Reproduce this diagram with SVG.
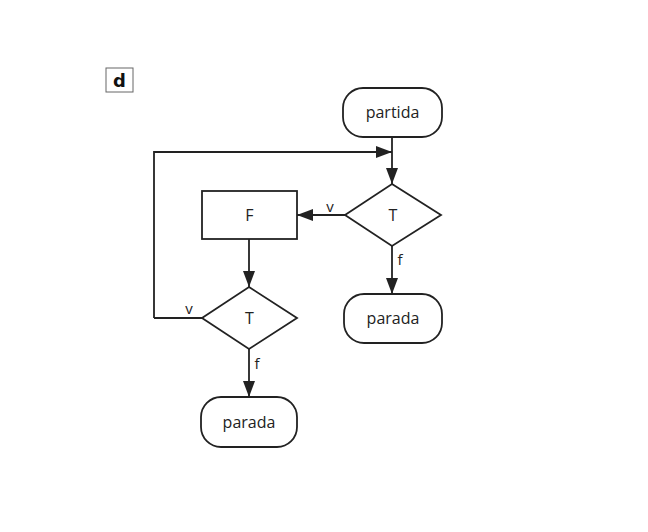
<svg xmlns="http://www.w3.org/2000/svg" width="648" height="532" viewBox="0 0 648 532">
<style>
.shape{fill:#fff;stroke:#222;stroke-width:1.8}
.line{fill:none;stroke:#222;stroke-width:1.8}
.lbl{font-family:"Open Sans","DejaVu Sans",sans-serif;font-size:16px;fill:#222;text-anchor:middle;dominant-baseline:central}
.sm{font-family:"Open Sans","DejaVu Sans",sans-serif;font-size:15px;fill:#222;text-anchor:middle;dominant-baseline:central}
</style>
<defs>
<marker id="ah" viewBox="0 0 16 12" refX="16" refY="6" markerWidth="16" markerHeight="12" markerUnits="userSpaceOnUse" orient="auto">
<path d="M0,0 L16,6 L0,12 Z" fill="#222"/>
</marker>
</defs>
<rect width="648" height="532" fill="#fff"/>
<g id="label-d">
<rect x="106" y="68" width="27" height="24" fill="#fff" stroke="#666" stroke-width="1"/>
<text x="119.5" y="80" font-family="'DejaVu Sans',sans-serif" font-weight="bold" font-size="18" fill="#111" text-anchor="middle" dominant-baseline="central">d</text>
</g>
<g id="connectors">
<path class="line" d="M392,137 V184" marker-end="url(#ah)"/>
<path class="line" d="M154,318 V152 H392" marker-end="url(#ah)"/>
<path class="line" d="M345,215 H297" marker-end="url(#ah)"/>
<path class="line" d="M392,246 V294" marker-end="url(#ah)"/>
<path class="line" d="M249,239 V287" marker-end="url(#ah)"/>
<path class="line" d="M202,318 H154"/>
<path class="line" d="M249,349 V397" marker-end="url(#ah)"/>
<text class="sm" x="330" y="206">v</text>
<text class="sm" x="400" y="259">f</text>
<text class="sm" x="189" y="308">v</text>
<text class="sm" x="257" y="363">f</text>
</g>
<g id="start">
<rect class="shape" x="343" y="88" width="99" height="49" rx="20"/>
<text class="lbl" x="392.5" y="112">partida</text>
</g>
<g id="test1">
<polygon class="shape" points="392,184 441,215 392,246 345,215"/>
<text class="lbl" x="393" y="215">T</text>
</g>
<g id="process">
<rect class="shape" x="202" y="191" width="95" height="48"/>
<text class="lbl" x="249.5" y="215">F</text>
</g>
<g id="stop1">
<rect class="shape" x="344" y="294" width="98" height="49" rx="20"/>
<text class="lbl" x="393" y="318">parada</text>
</g>
<g id="test2">
<polygon class="shape" points="249,287 297,318 249,349 202,318"/>
<text class="lbl" x="249.5" y="318">T</text>
</g>
<g id="stop2">
<rect class="shape" x="201" y="397" width="96" height="50" rx="20"/>
<text class="lbl" x="249" y="422">parada</text>
</g>
</svg>
